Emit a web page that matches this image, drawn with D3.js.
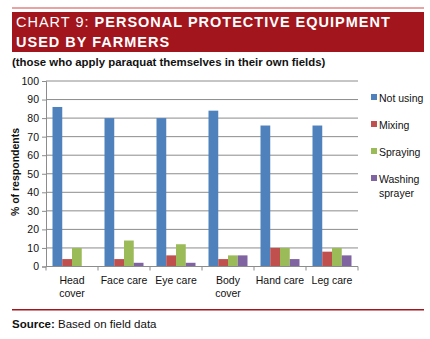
<!DOCTYPE html>
<html>
<head>
<meta charset="utf-8">
<script src="https://cdn.jsdelivr.net/npm/d3@7"></script>
<style>
  body { margin: 0; background: #fff; }
  svg { display: block; font-family: "Liberation Sans", Arial, sans-serif; }
</style>
</head>
<body>
<svg></svg>
<script>
// chart data
const categories = [["Head", "cover"], ["Face care"], ["Eye care"], ["Body", "cover"], ["Hand care"], ["Leg care"]];
const seriesNames = ["Not using", "Mixing", "Spraying", "Washing sprayer"];
const notUsing = [86, 80, 80, 84, 76, 76];
const mixing = [4, 4, 6, 4, 10, 8];
const spraying = [10, 14, 12, 6, 10, 10];
const washing = [0, 2, 2, 6, 4, 6];
const yTicks = [0, 10, 20, 30, 40, 50, 60, 70, 80, 90, 100];
const colors = ["#4F81BD", "#C0504D", "#9BBB59", "#8064A2"];

const series = [notUsing, mixing, spraying, washing];

const svg = d3.select("svg").attr("width", 430).attr("height", 339);

// header
svg.append("rect").attr("x", 12).attr("y", 7).attr("width", 412).attr("height", 2).attr("fill", "#E9A3A3");
svg.append("rect").attr("x", 12).attr("y", 12).attr("width", 412).attr("height", 40).attr("fill", "#A3151D");

const t1 = svg.append("text").attr("x", 16).attr("y", 27).attr("fill", "#fff")
  .attr("font-size", 14.5).style("letter-spacing", "1px");
t1.append("tspan").text("CHART 9: ");
t1.append("tspan").attr("font-weight", "bold").text("PERSONAL PROTECTIVE EQUIPMENT");
svg.append("text").attr("x", 16).attr("y", 47).attr("fill", "#fff")
  .attr("font-size", 14.5).attr("font-weight", "bold").style("letter-spacing", "1px")
  .text("USED BY FARMERS");

svg.append("text").attr("x", 12).attr("y", 66).attr("font-size", 11.4).attr("font-weight", "bold")
  .attr("fill", "#111").text("(those who apply paraquat themselves in their own fields)");

// plot
const plotL = 46, plotR = 358, plotT = 81, plotB = 266.5;

const x = d3.scaleBand().domain(d3.range(categories.length)).range([plotL, plotR]).paddingInner(0.25).paddingOuter(0.125);
const xs = d3.scaleBand().domain(d3.range(series.length)).range([0, x.bandwidth()]);
const y = d3.scaleLinear().domain([0, 100]).range([plotB, plotT]);

const g = svg.append("g");

// gridlines
g.selectAll(".grid").data(yTicks.slice(1)).join("line")
  .attr("x1", plotL).attr("x2", plotR)
  .attr("y1", d => y(d)).attr("y2", d => y(d))
  .attr("stroke", "#8C8C8C").attr("stroke-width", 1);

// bars
series.forEach((vals, si) => {
  g.selectAll(".bar" + si).data(vals).join("rect")
    .attr("x", (d, i) => x(i) + xs(si))
    .attr("y", d => y(d))
    .attr("width", xs.bandwidth())
    .attr("height", d => plotB - y(d))
    .attr("fill", colors[si]);
});

// y axis
const yAxis = d3.axisLeft(y).tickValues(yTicks).tickSize(4).tickPadding(3);
const ya = svg.append("g").attr("transform", `translate(${plotL},0)`).call(yAxis);
ya.select(".domain").attr("stroke", "#8C8C8C");
ya.selectAll(".tick line").attr("stroke", "#8C8C8C");
ya.selectAll("text").attr("font-size", 10.5).attr("fill", "#111");

// x axis
const xa = svg.append("g").attr("transform", `translate(0,${plotB})`);
xa.append("line").attr("x1", plotL).attr("x2", plotR).attr("stroke", "#8C8C8C");
const bounds = d3.range(categories.length + 1).map(i => plotL + i * (plotR - plotL) / categories.length);
xa.selectAll(".xt").data(bounds).join("line")
  .attr("x1", d => d).attr("x2", d => d).attr("y1", 0).attr("y2", 4).attr("stroke", "#8C8C8C");
categories.forEach((lines, i) => {
  const tx = xa.append("text").attr("text-anchor", "middle").attr("font-size", 10.5).attr("fill", "#111");
  lines.forEach((l, j) => {
    tx.append("tspan").attr("x", x(i) + x.bandwidth() / 2).attr("y", 17 + j * 13.5).text(l);
  });
});

// y title
svg.append("text").attr("transform", "translate(19,172) rotate(-90)")
  .attr("text-anchor", "middle").attr("font-size", 10.5).attr("font-weight", "bold")
  .attr("fill", "#111").text("% of respondents");

// legend
const legY = [98, 125, 152, 179];
seriesNames.forEach((n, i) => {
  svg.append("rect").attr("x", 371).attr("y", legY[i] - 4).attr("width", 6).attr("height", 6).attr("fill", colors[i]);
  const lt = svg.append("text").attr("font-size", 10.5).attr("fill", "#111");
  const parts = n === "Washing sprayer" ? ["Washing", "sprayer"] : [n];
  parts.forEach((p, j) => lt.append("tspan").attr("x", 379).attr("y", legY[i] + 3.5 + j * 14).text(p));
});

// footer
svg.append("rect").attr("x", 12).attr("y", 309).attr("width", 412).attr("height", 1.5).attr("fill", "#A3151D");
const src = svg.append("text").attr("x", 12).attr("y", 328).attr("font-size", 11.5).attr("fill", "#111");
src.append("tspan").attr("font-weight", "bold").text("Source:");
src.append("tspan").text(" Based on field data");
</script>
</body>
</html>
